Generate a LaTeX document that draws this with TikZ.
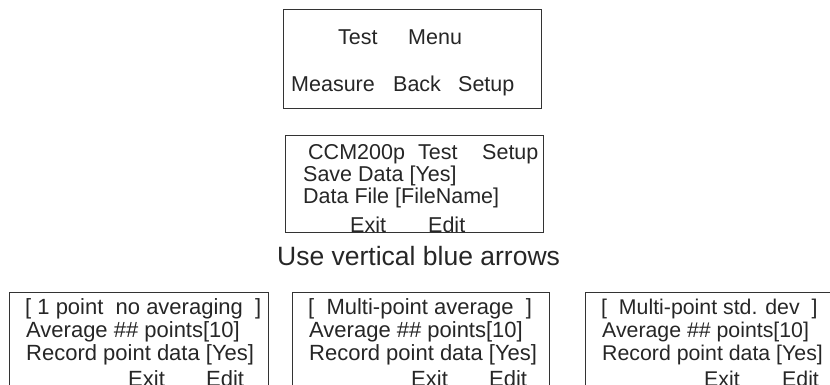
\documentclass[tikz,border=0pt]{standalone}
\usepackage{fontspec}
\setmainfont{Liberation Sans}
\tikzset{
  screen/.style={draw=black!80, line width=0.8pt},
  lcd/.style={anchor=base west, inner sep=0pt, text=black!85,
    font=\fontsize{22}{22}\selectfont},
  smalllcd/.style={lcd, font=\fontsize{21.5}{21.5}\selectfont},
  hint/.style={anchor=base west, inner sep=0pt, text=black!85,
    font=\fontsize{26.5}{26.5}\selectfont},
}

\begin{document}
\begin{tikzpicture}[x=1pt,y=-1pt] % screens of the test menu
    \useasboundingbox (0,0) rectangle (830,385);
    \clip (0,0) rectangle (830,385);

    % main menu screen
    \draw [screen] (283,9.5) rectangle (541,108.5);
    \node [smalllcd] (test)    at (338,45)   {Test};
    \node [smalllcd] (menu)    at (408,45)   {Menu};
    \node [smalllcd] (measure) at (291,91.7) {Measure};
    \node [smalllcd] (back)    at (393,91.7) {Back};
    \node [smalllcd] (setup)   at (458,91.7) {Setup};

    % setup screen (last line cut by the frame)
    \draw [screen] (285,135) rectangle (543,232);
    \begin{scope}
        \clip (285,135) rectangle (543,232.4);
        \node [smalllcd] (ccm)      at (308,160)   {CCM200p};
        \node [smalllcd] (ccmtest)  at (418,160)   {Test};
        \node [smalllcd] (ccmsetup) at (482,160)   {Setup};
        \node [smalllcd] (save)     at (303,181.7) {Save Data [Yes]};
        \node [smalllcd] (file)     at (303,203.3) {Data File [FileName]};
        \node [smalllcd] (exit)     at (350,232.6) {Exit};
        \node [smalllcd] (edit)     at (428,232.6) {Edit};
    \end{scope}

    \node [hint] (hint) at (277,265) {Use vertical blue arrows};

    % the three averaging screens
    \foreach \x/\w/\n/\s/\head in {
        9/259/single/22/{[ 1 point~ no averaging~ ]},
        292/257/multi/22/{[~ Multi-point average~ ]},
        585/250/stddev/21.3/{[~ Multi-point std. dev~ ]}}{
        \draw [screen] (\x,292) rectangle ++(\w,120);
        \begin{scope}[every node/.style={lcd, font=\fontsize{\s}{\s}\selectfont}]
            \node (\n head) at (\x+16,314.3) {\head};
            \node (\n avg)  at (\x+17,337.3) {Average \#\# points[10]};
            \node (\n rec)  at (\x+17,360)   {Record point data [Yes]};
            \node (\n exit) at (\x+119,386.5) {Exit};
            \node (\n edit) at (\x+197,386.5) {Edit};
        \end{scope}
    }
\end{tikzpicture}
\end{document}
